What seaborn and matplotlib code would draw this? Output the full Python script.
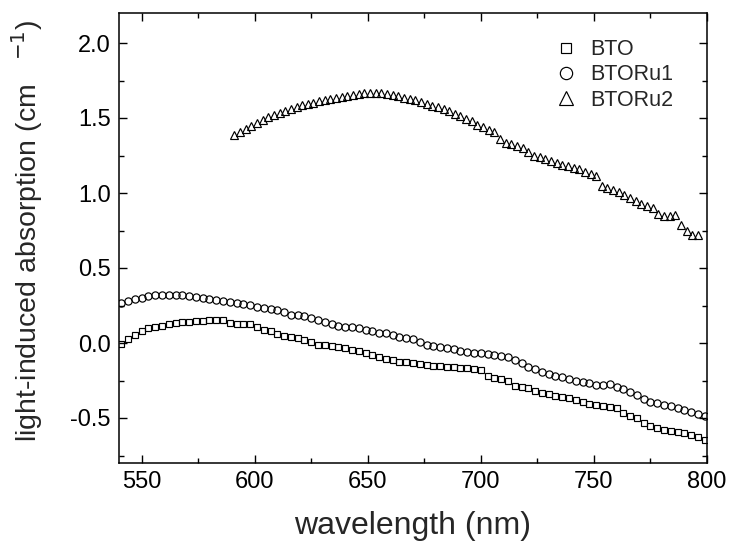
import numpy as np
import pandas as pd
import seaborn as sns
import matplotlib.pyplot as plt
from matplotlib.ticker import MultipleLocator

# wavelength grids (nm)
wl_bto = np.arange(541, 800, 3)
wl_ru2 = np.arange(591, 797, 2.5)

bto = [-0.005, 0.025, 0.055, 0.08, 0.10, 0.108, 0.115, 0.127, 0.134, 0.138,
       0.141, 0.144, 0.148, 0.152, 0.155, 0.152, 0.135, 0.129, 0.127, 0.125,
       0.11, 0.09, 0.08, 0.06, 0.048, 0.041, 0.033, 0.02, 0.006, -0.01,
       -0.016, -0.021, -0.028, -0.036, -0.044, -0.052, -0.068, -0.083, -0.094, -0.106,
       -0.116, -0.124, -0.129, -0.135, -0.143, -0.149, -0.153, -0.156, -0.158, -0.161,
       -0.164, -0.169, -0.174, -0.18, -0.222, -0.232, -0.243, -0.256, -0.285, -0.293,
       -0.298, -0.32, -0.333, -0.343, -0.356, -0.36, -0.366, -0.378, -0.393, -0.405,
       -0.413, -0.42, -0.428, -0.436, -0.466, -0.488, -0.503, -0.535, -0.556, -0.569,
       -0.577, -0.585, -0.592, -0.6, -0.612, -0.628, -0.648]

btoru1 = [0.265, 0.279, 0.291, 0.302, 0.312, 0.318, 0.32, 0.321, 0.321, 0.32,
          0.314, 0.308, 0.302, 0.294, 0.286, 0.279, 0.273, 0.268, 0.261, 0.253,
          0.241, 0.232, 0.225, 0.221, 0.205, 0.186, 0.19, 0.178, 0.164, 0.156,
          0.142, 0.127, 0.112, 0.107, 0.104, 0.099, 0.089, 0.079, 0.07, 0.064,
          0.056, 0.043, 0.035, 0.027, 0.005, -0.013, -0.02, -0.025, -0.03, -0.042,
          -0.053, -0.062, -0.064, -0.067, -0.074, -0.081, -0.088, -0.093, -0.112, -0.135,
          -0.157, -0.176, -0.194, -0.209, -0.219, -0.229, -0.24, -0.25, -0.259, -0.269,
          -0.279, -0.281, -0.272, -0.29, -0.308, -0.325, -0.347, -0.37, -0.392, -0.4,
          -0.41, -0.421, -0.432, -0.446, -0.46, -0.471, -0.486]

btoru2 = [1.39, 1.41, 1.43, 1.45, 1.47, 1.49, 1.505, 1.52, 1.535, 1.55,
          1.56, 1.572, 1.585, 1.595, 1.603, 1.612, 1.62, 1.628, 1.635, 1.642,
          1.648, 1.655, 1.66, 1.664, 1.667, 1.668, 1.665, 1.66, 1.652, 1.645,
          1.635, 1.627, 1.617, 1.605, 1.594, 1.583, 1.572, 1.56, 1.545, 1.53,
          1.512, 1.495, 1.478, 1.455, 1.437, 1.423, 1.41, 1.36, 1.335, 1.325,
          1.315, 1.3, 1.272, 1.25, 1.237, 1.225, 1.212, 1.2, 1.19, 1.18,
          1.168, 1.157, 1.143, 1.128, 1.11, 1.05, 1.035, 1.02, 1.005, 0.99,
          0.97, 0.945, 0.928, 0.915, 0.9, 0.862, 0.845, 0.848, 0.852, 0.79,
          0.745, 0.72, 0.72]

sns.set_style('ticks')
plt.rcParams['font.family'] = ['Liberation Sans', 'DejaVu Sans']
plt.rcParams['axes.unicode_minus'] = False

fig = plt.figure(figsize=(7.37, 5.45), dpi=100)
ax = fig.add_axes([119/737, 82/545, 588/737, 450/545])

series = [('BTO', wl_bto, bto, 's', 4.6),
          ('BTORu1', wl_bto, btoru1, 'o', 5.2),
          ('BTORu2', wl_ru2, btoru2, '^', 5.6)]
for name, x, y, m, ms in series:
    sns.lineplot(x=x, y=y, ax=ax, label=name, color='black', linestyle='',
                 marker=m, markersize=ms, markerfacecolor='none',
                 markeredgecolor='black', markeredgewidth=0.85)

ax.set_xlim(540, 800)
ax.set_ylim(-0.8, 2.2)
ax.xaxis.set_major_locator(MultipleLocator(50))
ax.xaxis.set_minor_locator(MultipleLocator(25))
ax.yaxis.set_major_locator(MultipleLocator(0.5))
ax.yaxis.set_minor_locator(MultipleLocator(0.25))
ax.tick_params(which='both', direction='in', top=True, right=True, width=1,
               labelsize=17, colors='black')
ax.tick_params(which='major', length=6, pad=6)
ax.tick_params(which='minor', length=3.5)
for s in ax.spines.values():
    s.set_linewidth(1.1)
    s.set_color('black')

ax.set_xlabel('wavelength (nm)', fontsize=23, labelpad=13)
ax.set_ylabel('light-induced absorption (cm   $^{-1}$)', fontsize=20.5)
ax.yaxis.set_label_coords(-0.125, 0.515)

ax.legend(loc='upper right', bbox_to_anchor=(0.975, 0.985), frameon=False,
          fontsize=15.5, markerscale=1.7, handlelength=1.0, handletextpad=0.6,
          labelspacing=0.2)

fig.savefig('out.png', dpi=100)
